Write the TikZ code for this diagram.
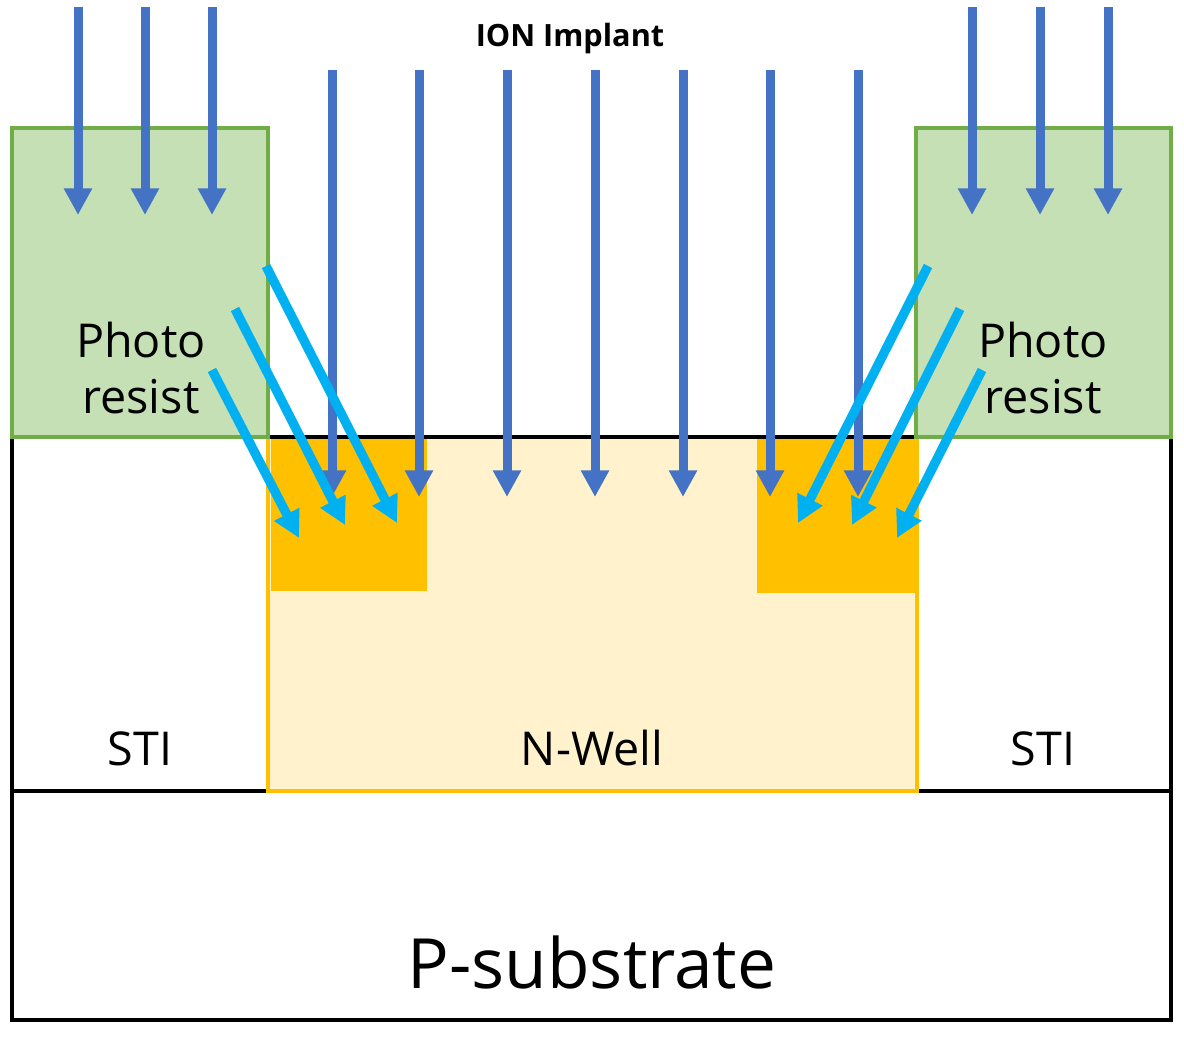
\documentclass[tikz,border=0pt]{standalone}
\usepackage{fontspec}
\setmainfont{Open Sans}
\usetikzlibrary{arrows.meta}
\definecolor{implblue}{HTML}{4472C4}
\definecolor{tiltcyan}{HTML}{00B0F0}
\definecolor{prfill}{HTML}{C5E0B4}
\definecolor{prline}{HTML}{70AD47}
\definecolor{nwfill}{HTML}{FFF2CC}
\definecolor{nwline}{HTML}{FFC000}
\tikzset{
  implarrow/.style={draw=implblue, line width=6.75pt, -{Triangle[width=20pt,length=20pt]}},
  tiltarrow/.style={draw=tiltcyan, line width=7pt, -{Triangle[width=20pt,length=20pt]}},
  blackedge/.style={draw=black, line width=2.4pt},
  prbox/.style={fill=prfill, draw=prline, line width=2.4pt},
  lbl/.style={inner sep=0pt, anchor=base, font=\fontsize{35}{42}\selectfont},
}
\begin{document}
\begin{tikzpicture}[x=0.75pt,y=-0.75pt]
\useasboundingbox (0,0) rectangle (1184,1037);
\fill[white] (0,0) rectangle (1184,1037);
% substrate and STI frame
\draw[blackedge] (12,791) rectangle (1171,1020);
\draw[blackedge] (12,437) -- (12,791);
\draw[blackedge] (1171,437) -- (1171,791);
% N-Well
\draw[fill=nwfill, draw=nwline, line width=2.4pt] (268,437) rectangle (917,791);
% heavily doped regions
\fill[nwline] (271,439) rectangle (427,591);
\fill[nwline] (757,439) rectangle (917,593);
\draw[blackedge] (266,437) -- (918,437);
% photo resist
\draw[prbox] (12,128) rectangle (268,437);
\draw[prbox] (916,128) rectangle (1171,437);
% labels
\node[lbl, font=\bfseries\fontsize{23}{27}\selectfont] (ion) at (570,47) {ION Implant};
\node[lbl] (prL1) at (141,357) {Photo};
\node[lbl] (prL2) at (141,413) {resist};
\node[lbl] (prR1) at (1043,357) {Photo};
\node[lbl] (prR2) at (1043,413) {resist};
\node[lbl] (stiL) at (140,765) {STI};
\node[lbl] (stiR) at (1043,765) {STI};
\node[lbl] (nwell) at (592,765) {N-Well};
\node[lbl, font=\fontsize{52}{60}\selectfont] (psub) at (592,988) {P-substrate};
% vertical implant arrows
\foreach \x in {78,145,212,972,1040,1108}
  \draw[implarrow] (\x,7) -- (\x,215);
\foreach \x in {332,419,507,595,683,770,858}
  \draw[implarrow] (\x,70) -- (\x,497);
% tilted arrows
\draw[tiltarrow] (266,266) -- (397,523);
\draw[tiltarrow] (235,309) -- (345,525);
\draw[tiltarrow] (212,370) -- (299,538);
\draw[tiltarrow] (928,266) -- (798,523);
\draw[tiltarrow] (960,309) -- (852,525);
\draw[tiltarrow] (982,370) -- (897,538);
\end{tikzpicture}
\end{document}
